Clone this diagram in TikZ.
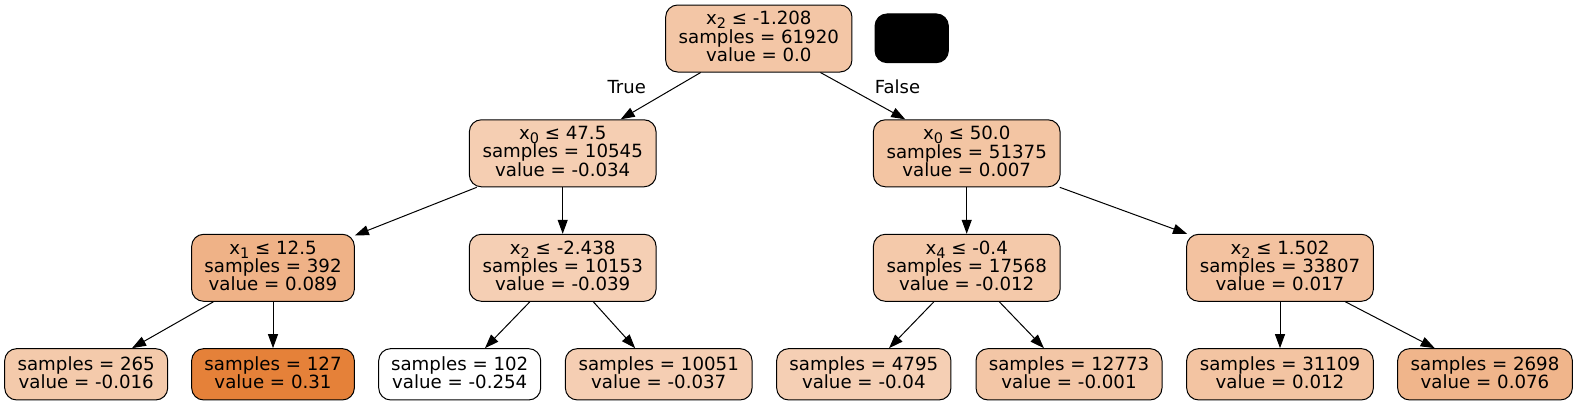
\documentclass[tikz,border=0pt]{standalone}
\usepackage{fontspec}
\setmainfont{DejaVu Sans}
\usetikzlibrary{arrows.meta}
\definecolor{cRoot}{HTML}{F3C6A6}
\definecolor{cA}{HTML}{F5CEB2}
\definecolor{cB}{HTML}{F3C5A3}
\definecolor{cC}{HTML}{EFB287}
\definecolor{cD}{HTML}{F5CFB4}
\definecolor{cE}{HTML}{F4C9AA}
\definecolor{cF}{HTML}{F3C2A0}
\definecolor{cG}{HTML}{F4CAAB}
\definecolor{cH}{HTML}{E58139}
\definecolor{cI}{HTML}{FFFFFF}
\definecolor{cJ}{HTML}{F5CEB3}
\definecolor{cK}{HTML}{F5CFB4}
\definecolor{cL}{HTML}{F3C6A6}
\definecolor{cM}{HTML}{F3C4A2}
\definecolor{cN}{HTML}{F0B58B}
\newcommand\xs[1]{x\raisebox{-3.8pt}{\fontsize{14.5}{14.5}\selectfont #1}}
\newcommand\dd{\rule[-4pt]{0pt}{4pt}}
\begin{document}
\begin{tikzpicture}[x=1pt,y=1pt,
  tn/.style={draw=black, line width=1pt, rounded corners=12pt, inner sep=0pt,
    align=center, font={\fontsize{18.2}{18.3}\selectfont\lineskiplimit=-50pt}},
  split/.style={tn, minimum height=67pt},
  leaf/.style={tn, minimum height=51.3pt},
  arr/.style={-{Triangle[length=14pt,width=10pt]}, line width=1pt},
  lbl/.style={font=\fontsize{18}{18}\selectfont, inner sep=0pt}]
\useasboundingbox (0,0) rectangle (1578,-405);
% level 0
\node[split, fill=cRoot, minimum width=186.3pt] (root) at (758.8,-38.5)
  {\xs{2} ≤ -1.208\\samples = 61920\\value = 0.0\dd};
\node[tn, fill=black, minimum width=73.3pt, minimum height=48.7pt] (legend) at (911.7,-38.3) {};
% level 1
\node[split, fill=cA, minimum width=186.7pt] (n1) at (562.7,-153.3)
  {\xs{0} ≤ 47.5\\samples = 10545\\value = -0.034\dd};
\node[split, fill=cB, minimum width=186.7pt] (n2) at (966.7,-153.3)
  {\xs{0} ≤ 50.0\\samples = 51375\\value = 0.007\dd};
% level 2
\node[split, fill=cC, minimum width=162.7pt] (n3) at (273,-267.8)
  {\xs{1} ≤ 12.5\\samples = 392\\value = 0.089\dd};
\node[split, fill=cD, minimum width=186.7pt] (n4) at (562.7,-267.8)
  {\xs{2} ≤ -2.438\\samples = 10153\\value = -0.039\dd};
\node[split, fill=cE, minimum width=186.7pt] (n5) at (966.7,-267.8)
  {\xs{4} ≤ -0.4\\samples = 17568\\value = -0.012\dd};
\node[split, fill=cF, minimum width=186.7pt] (n6) at (1280,-267.8)
  {\xs{2} ≤ 1.502\\samples = 33807\\value = 0.017\dd};
% level 3
\node[leaf, fill=cG, minimum width=163pt] (l1) at (86.2,-374.3)
  {samples = 265\\value = -0.016\dd};
\node[leaf, fill=cH, minimum width=162.7pt] (l2) at (273,-374.3)
  {samples = 127\\value = 0.31\dd};
\node[leaf, fill=cI, minimum width=162pt] (l3) at (459.7,-374.3)
  {samples = 102\\value = -0.254\dd};
\node[leaf, fill=cJ, minimum width=186.7pt] (l4) at (658.7,-374.3)
  {samples = 10051\\value = -0.037\dd};
\node[leaf, fill=cK, minimum width=174.3pt] (l5) at (863.8,-374.3)
  {samples = 4795\\value = -0.04\dd};
\node[leaf, fill=cL, minimum width=186pt] (l6) at (1069,-374.3)
  {samples = 12773\\value = -0.001\dd};
\node[leaf, fill=cM, minimum width=186.7pt] (l7) at (1280,-374.3)
  {samples = 31109\\value = 0.012\dd};
\node[leaf, fill=cN, minimum width=174.7pt] (l8) at (1485,-374.3)
  {samples = 2698\\value = 0.076\dd};
% edges
\draw[arr] (root) -- (n1);
\draw[arr] (root) -- (n2);
\draw[arr] (n1) -- (n3);
\draw[arr] (n1) -- (n4);
\draw[arr] (n2) -- (n5);
\draw[arr] (n2) -- (n6);
\draw[arr] (n3) -- (l1);
\draw[arr] (n3) -- (l2);
\draw[arr] (n4) -- (l3);
\draw[arr] (n4) -- (l4);
\draw[arr] (n5) -- (l5);
\draw[arr] (n5) -- (l6);
\draw[arr] (n6) -- (l7);
\draw[arr] (n6) -- (l8);
% edge labels
\node[lbl] (tlab) at (626.7,-86.7) {True};
\node[lbl] (flab) at (897.5,-86.7) {False};
\end{tikzpicture}
\end{document}
